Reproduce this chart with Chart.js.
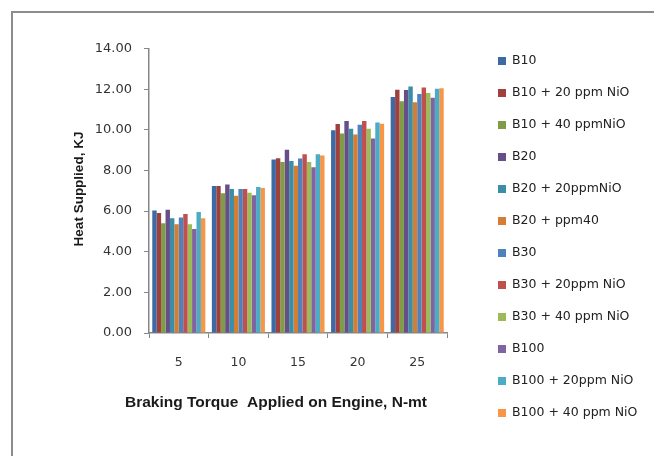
<!DOCTYPE html>
<html>
<head>
<meta charset="utf-8">
<script src="https://cdn.jsdelivr.net/npm/chart.js@4.4.0/dist/chart.umd.min.js"></script>
<style>
  html, body { margin: 0; padding: 0; background: #ffffff; }
  #wrap { width: 654px; height: 456px; position: relative; }
</style>
</head>
<body>
<div id="wrap"><canvas id="c" width="654" height="456"></canvas></div>
<script>
// Braking torque (N-mt) on the x axis
const torque = ['5', '10', '15', '20', '25'];

// Fuel blends
const blends = [
  'B10', 'B10 + 20 ppm NiO', 'B10 + 40 ppmNiO', 'B20', 'B20 + 20ppmNiO', 'B20 + ppm40',
  'B30', 'B30 + 20ppm NiO', 'B30 + 40 ppm NiO', 'B100', 'B100 + 20ppm NiO', 'B100 + 40 ppm NiO'
];

// Heat supplied (KJ) for each blend, one value per torque step
const b10        = [6.03, 7.23, 8.54,  9.98, 11.61];
const b10_20NiO  = [5.90, 7.23, 8.60, 10.28, 11.97];
const b10_40NiO  = [5.40, 6.88, 8.41,  9.82, 11.40];
const b20        = [6.06, 7.31, 9.02, 10.43, 11.96];
const b20_20NiO  = [5.65, 7.09, 8.47, 10.05, 12.13];
const b20_40NiO  = [5.35, 6.75, 8.23,  9.77, 11.35];
const b30        = [5.68, 7.08, 8.59, 10.25, 11.76];
const b30_20NiO  = [5.86, 7.08, 8.80, 10.43, 12.08];
const b30_40NiO  = [5.35, 6.90, 8.41, 10.05, 11.81];
const b100       = [5.12, 6.78, 8.16,  9.57, 11.58];
const b100_20NiO = [5.96, 7.19, 8.80, 10.36, 12.02];
const b100_40NiO = [5.65, 7.14, 8.74, 10.30, 12.04];

// Y axis range and step
const yMin = 0, yMax = 14, yStep = 2;

const seriesValues = [b10, b10_20NiO, b10_40NiO, b20, b20_20NiO, b20_40NiO,
                      b30, b30_20NiO, b30_40NiO, b100, b100_20NiO, b100_40NiO];
const palette = ['#3d6aa2', '#a13f3c', '#7f9c46', '#664f88', '#3a8fa6', '#d57d32',
                 '#4f81bd', '#c0504d', '#9bbb59', '#8064a2', '#4bacc6', '#f79646'];

const axisGray = '#868686';
const textFont = 'DejaVu Sans';

// Frame, axis titles and legend drawn on the canvas
const decorations = {
  id: 'decorations',
  beforeDraw(chart) {
    const ctx = chart.ctx;
    ctx.save();
    ctx.fillStyle = '#ffffff';
    ctx.fillRect(0, 0, chart.width, chart.height);
    ctx.strokeStyle = '#8c8c8c';
    ctx.lineWidth = 2;
    ctx.strokeRect(12, 12, 700, 500);
    ctx.restore();
  },
  afterDraw(chart) {
    const ctx = chart.ctx;
    ctx.save();
    // Y axis title
    ctx.fillStyle = '#1a1a1a';
    ctx.font = 'bold 13.5px "Liberation Sans"';
    ctx.textAlign = 'center';
    ctx.textBaseline = 'middle';
    ctx.translate(79, 189);
    ctx.rotate(-Math.PI / 2);
    ctx.fillText('Heat Supplied, KJ', 0, 0);
    ctx.restore();

    ctx.save();
    // X axis title
    ctx.fillStyle = '#1a1a1a';
    ctx.font = 'bold 15.5px "Liberation Sans"';
    ctx.textAlign = 'center';
    ctx.textBaseline = 'middle';
    ctx.fillText('Braking Torque  Applied on Engine, N-mt', 276, 403);

    // Legend
    ctx.font = '12.5px "' + textFont + '"';
    ctx.textAlign = 'left';
    chart.data.datasets.forEach((ds, i) => {
      const y = 61 + i * 32;
      ctx.fillStyle = ds.backgroundColor;
      ctx.fillRect(498, y - 4, 8, 8);
      ctx.fillStyle = '#222222';
      ctx.fillText(ds.label, 512, y);
    });
    ctx.restore();
  }
};

new Chart(document.getElementById('c'), {
  type: 'bar',
  data: {
    labels: torque,
    datasets: blends.map((name, i) => ({
      label: name,
      data: seriesValues[i],
      backgroundColor: palette[i],
      borderWidth: 0,
      categoryPercentage: 0.89,
      barPercentage: 1.0
    }))
  },
  options: {
    responsive: false,
    animation: false,
    devicePixelRatio: 1,
    layout: { padding: { top: 48.5, right: 207, left: 0, bottom: 0 } },
    plugins: { legend: { display: false }, tooltip: { enabled: false } },
    scales: {
      x: {
        grid: { display: true, drawOnChartArea: false, offset: true, tickLength: 5, color: axisGray },
        border: { color: axisGray, width: 1.5 },
        ticks: { padding: 17, color: '#333333', font: { family: textFont, size: 12.5 } },
        afterFit(scale) { scale.height = 456 - 333; }
      },
      y: {
        min: yMin,
        max: yMax,
        grid: { drawOnChartArea: false, tickLength: 5, color: axisGray },
        border: { color: axisGray, width: 1.5 },
        ticks: {
          stepSize: yStep,
          padding: 12,
          color: '#333333',
          font: { family: textFont, size: 13 },
          callback: v => v.toFixed(2)
        },
        afterFit(scale) { scale.width = 149; }
      }
    }
  },
  plugins: [decorations]
});
</script>
</body>
</html>
